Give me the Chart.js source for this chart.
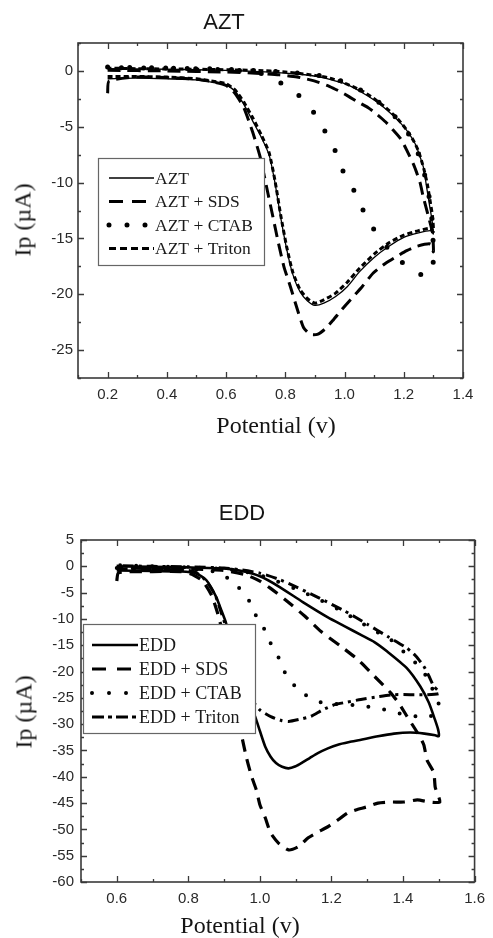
<!DOCTYPE html>
<html>
<head>
<meta charset="utf-8">
<script src="https://cdn.jsdelivr.net/npm/chart.js@4.4.1/dist/chart.umd.min.js"></script>
<style>
  body { margin:0; background:#fff; width:493px; height:938px; position:relative; overflow:hidden; }
  canvas { position:absolute; left:0; }
  .lbl { position:absolute; white-space:nowrap; color:#151515; transform:translate(-50%,-50%); }
  .ttl { font-family:'Liberation Sans', Arial, sans-serif; font-size:22px; }
  .ax  { font-family:'Liberation Serif', 'Times New Roman', serif; font-size:24px; }
  .rot { transform:translate(-50%,-50%) rotate(-90deg); }
</style>
</head>
<body>
<canvas id="aztChart" width="493" height="440" style="top:0"></canvas>
<canvas id="eddChart" width="493" height="468" style="top:470px"></canvas>

<div class="lbl ttl" style="left:224px;top:22px">AZT</div>
<div class="lbl ax rot" style="left:23px;top:220px">Ip (µA)</div>
<div class="lbl ax" style="left:276px;top:425px">Potential (v)</div>

<div class="lbl ttl" style="left:242px;top:513px">EDD</div>
<div class="lbl ax rot" style="left:24px;top:712px">Ip (µA)</div>
<div class="lbl ax" style="left:240px;top:925px">Potential (v)</div>

<script>
// ---- AZT voltammograms (potential V, current µA) ----
const aztX = [0.2,0.3,0.4,0.5,0.55,0.6,0.63,0.66,0.69,0.72,0.745,0.765,0.785,0.805,0.825,0.85,0.875,0.9,0.93,0.97,1.01,1.05,1.1,1.15,1.2,1.25,1.29,1.3,
  1.295,1.288,1.276,1.266,1.25,1.238,1.215,1.19,1.16,1.13,1.1,1.063,1.03,0.996,0.95,0.908,0.85,0.75,0.6,0.4,0.2];
const aztY = [-0.7,-0.65,-0.7,-0.8,-1.0,-1.25,-1.8,-3.0,-4.5,-6.0,-7.5,-10.0,-13.2,-16.0,-18.2,-19.8,-20.6,-21.0,-20.8,-20.2,-19.3,-18.0,-16.7,-15.7,-14.9,-14.5,-14.3,-14.6,
  -13.3,-12.2,-10.2,-8.6,-7.3,-6.5,-5.5,-4.7,-3.9,-3.2,-2.6,-2.0,-1.5,-1.1,-0.75,-0.5,-0.3,-0.1,0.05,0.15,0.2];

const aztSdsX = [0.2,0.205,0.3,0.4,0.5,0.55,0.6,0.63,0.66,0.69,0.715,0.74,0.76,0.775,0.795,0.817,0.84,0.862,0.885,0.908,0.935,0.962,0.99,1.02,1.06,1.097,1.14,1.177,1.21,1.245,1.29,1.3,
  1.297,1.285,1.265,1.255,1.235,1.21,1.19,1.164,1.14,1.11,1.08,1.046,1.015,0.985,0.95,0.91,0.884,0.84,0.78,0.7,0.6,0.4,0.2];
const aztSdsY = [-2.0,-0.9,-0.55,-0.6,-0.75,-0.95,-1.3,-2.0,-3.3,-5.5,-7.7,-10.8,-13.3,-15.2,-17.5,-19.3,-21.3,-23.0,-23.6,-23.6,-23.1,-22.3,-21.4,-20.5,-19.3,-18.1,-17.2,-16.6,-16.1,-15.7,-15.5,-16.2,
  -14.5,-13.2,-11.2,-10.0,-8.5,-7.1,-6.1,-5.3,-4.6,-3.9,-3.3,-2.8,-2.3,-1.85,-1.4,-1.0,-0.8,-0.55,-0.35,-0.2,-0.1,0.0,0.05];

const aztCtabX = [0.2,0.3,0.4,0.5,0.6,0.7,0.75,0.78,0.81,0.844,0.87,0.9,0.92,0.94,0.96,0.975,1.0,1.036,1.063,1.097,1.15,1.215,1.265,1.295,1.3,
  1.297,1.29,1.275,1.26,1.24,1.215,1.19,1.16,1.12,1.08,1.04,1.0,0.95,0.9,0.8,0.6,0.4,0.2];
const aztCtabY = [0.35,0.3,0.25,0.2,0.1,-0.1,-0.5,-1.0,-1.5,-2.15,-2.9,-3.85,-4.7,-5.7,-6.7,-7.5,-9.3,-10.9,-12.5,-14.1,-16.0,-17.6,-18.3,-18.0,-16.5,
  -14.0,-12.0,-9.8,-8.3,-6.8,-5.6,-4.7,-3.8,-2.9,-2.1,-1.5,-1.0,-0.6,-0.35,-0.1,0.15,0.25,0.3];

const aztTritonX = [0.2,0.3,0.4,0.5,0.55,0.6,0.63,0.66,0.69,0.72,0.745,0.765,0.785,0.805,0.825,0.85,0.875,0.9,0.93,0.97,1.01,1.05,1.1,1.15,1.2,1.25,1.29,1.3,
  1.297,1.29,1.28,1.268,1.25,1.232,1.21,1.18,1.14,1.1,1.06,1.0,0.95,0.9,0.8,0.7,0.5,0.3,0.2];
const aztTritonY = [-0.5,-0.5,-0.55,-0.7,-0.9,-1.15,-1.7,-2.8,-4.2,-5.8,-7.3,-9.8,-13.0,-15.8,-18.0,-19.6,-20.4,-20.8,-20.5,-19.9,-18.9,-17.7,-16.4,-15.4,-14.7,-14.3,-14.1,-14.4,
  -13.0,-11.8,-10.2,-8.8,-7.2,-6.2,-5.3,-4.3,-3.3,-2.5,-1.8,-1.1,-0.65,-0.4,-0.1,0.05,0.15,0.2,0.25];

// ---- EDD voltammograms ----
const eddX = [0.6,0.7,0.78,0.82,0.85,0.877,0.893,0.905,0.92,0.94,0.96,0.975,0.988,1.0,1.015,1.03,1.045,1.062,1.08,1.1,1.116,1.14,1.162,1.19,1.218,1.25,1.28,1.33,1.375,1.42,1.46,1.49,1.5,
  1.498,1.489,1.472,1.448,1.41,1.356,1.32,1.281,1.24,1.19,1.12,1.052,1.0,0.95,0.9,0.8,0.7,0.6];
const eddY = [-0.8,-0.9,-1.0,-1.3,-2.6,-5.7,-8.5,-10.7,-14.5,-19.5,-24.0,-26.8,-28.8,-31.3,-34.3,-36.2,-37.4,-38.1,-38.4,-38.0,-37.4,-36.4,-35.5,-34.6,-33.9,-33.4,-33.0,-32.3,-31.8,-31.6,-31.8,-32.1,-32.3,
  -31.0,-29.1,-25.9,-22.8,-19.3,-16.2,-14.4,-13.0,-11.5,-9.7,-6.8,-3.8,-1.9,-0.9,-0.4,-0.2,-0.1,0.0];

const eddSdsX = [0.6,0.605,0.7,0.78,0.81,0.84,0.865,0.88,0.89,0.905,0.92,0.935,0.95,0.963,0.977,0.99,1.0,1.015,1.03,1.052,1.08,1.107,1.135,1.157,1.19,1.21,1.245,1.268,1.3,1.33,1.365,1.403,1.44,1.475,1.503,
  1.49,1.486,1.467,1.458,1.44,1.41,1.39,1.365,1.32,1.273,1.226,1.171,1.126,1.07,1.03,1.0,0.96,0.9,0.8,0.7,0.6];
const eddSdsY = [-2.8,-1.2,-1.0,-1.0,-1.5,-2.8,-5.5,-8.5,-11.0,-15.5,-21.0,-27.0,-32.5,-36.5,-40.0,-42.5,-45.3,-47.8,-50.7,-52.6,-53.9,-53.3,-51.6,-50.7,-49.5,-48.6,-46.9,-46.3,-45.7,-45.0,-44.8,-44.8,-44.4,-44.8,-44.8,
  -42.0,-39.2,-36.8,-33.9,-31.6,-28.4,-26.2,-24.0,-20.9,-17.7,-15.2,-12.4,-9.5,-6.3,-4.2,-2.8,-1.6,-0.8,-0.5,-0.4,-0.3];

const eddCtabX = [0.6,0.7,0.8,0.86,0.89,0.913,0.935,0.955,0.97,0.982,1.0,1.01,1.029,1.052,1.07,1.098,1.126,1.162,1.2,1.25,1.293,1.328,1.37,1.41,1.44,1.476,1.495,1.5,
  1.498,1.487,1.48,1.467,1.445,1.41,1.365,1.33,1.28,1.22,1.16,1.1,1.05,1.0,0.95,0.9,0.8,0.7,0.6];
const eddCtabY = [-0.3,-0.35,-0.5,-0.8,-1.5,-2.4,-3.7,-5.0,-6.6,-8.5,-10.6,-11.6,-14.5,-17.3,-20.2,-22.8,-24.4,-25.7,-26.1,-26.3,-26.6,-26.9,-27.6,-28.3,-28.5,-28.5,-27.8,-27.0,
  -25.5,-24.0,-23.0,-21.1,-19.0,-16.8,-13.9,-12.6,-10.6,-8.2,-6.1,-4.3,-2.9,-1.7,-0.9,-0.5,-0.2,0.0,0.2];

const eddTritonX = [0.6,0.7,0.79,0.82,0.85,0.875,0.893,0.91,0.93,0.95,0.965,0.977,1.0,1.032,1.06,1.08,1.11,1.143,1.175,1.209,1.245,1.282,1.33,1.375,1.42,1.467,1.5,
  1.497,1.486,1.472,1.458,1.435,1.41,1.356,1.3,1.237,1.162,1.098,1.05,1.0,0.95,0.9,0.8,0.7,0.6];
const eddTritonY = [-0.5,-0.6,-0.7,-1.1,-2.8,-5.5,-9.0,-12.5,-17.0,-21.0,-23.5,-25.3,-27.3,-28.6,-29.3,-29.5,-29.1,-28.5,-27.3,-26.3,-25.8,-25.3,-24.8,-24.4,-24.4,-24.4,-24.2,
  -23.6,-22.8,-20.8,-19.0,-17.0,-15.5,-13.3,-11.0,-8.5,-5.9,-3.8,-2.4,-1.3,-0.7,-0.3,-0.1,0.0,0.1];

const toPoints = (xs, ys) => xs.map((x, i) => ({ x, y: ys[i] }));

// box round the plot with inward major/minor ticks on all four sides
const frameTicks = {
  id: 'frameTicks',
  afterDatasetsDraw(chart, args, opts) {
    const { ctx, chartArea: a, scales } = chart;
    ctx.save();
    ctx.strokeStyle = opts.color;
    ctx.lineWidth = 1.3;
    ctx.beginPath();
    scales.x.ticks.forEach(t => {
      const px = Math.round(scales.x.getPixelForValue(t.value)) + 0.5;
      const len = t.label ? opts.major : opts.minor;
      ctx.moveTo(px, a.bottom); ctx.lineTo(px, a.bottom - len);
      ctx.moveTo(px, a.top); ctx.lineTo(px, a.top + len);
    });
    scales.y.ticks.forEach(t => {
      const py = Math.round(scales.y.getPixelForValue(t.value)) + 0.5;
      const len = t.label ? opts.major : opts.minor;
      ctx.moveTo(a.left, py); ctx.lineTo(a.left + len, py);
      ctx.moveTo(a.right, py); ctx.lineTo(a.right - len, py);
    });
    ctx.stroke();
    ctx.lineWidth = 1.6;
    ctx.strokeRect(a.left, a.top, a.right - a.left, a.bottom - a.top);
    ctx.restore();
  }
};

// opaque legend box sitting inside the plot
const insetLegend = {
  id: 'insetLegend',
  afterDraw(chart, args, o) {
    const ctx = chart.ctx;
    ctx.save();
    ctx.fillStyle = '#fff';
    ctx.fillRect(o.x, o.y, o.w, o.h);
    ctx.strokeStyle = '#666';
    ctx.lineWidth = 1.2;
    ctx.strokeRect(o.x + 0.5, o.y + 0.5, o.w, o.h);
    chart.data.datasets.forEach((ds, i) => {
      const cy = o.row0 + i * o.rowGap;
      ctx.beginPath();
      ctx.setLineDash(ds.legendDash || ds.borderDash || []);
      ctx.lineWidth = ds.borderWidth;
      ctx.lineCap = ds.borderCapStyle || 'butt';
      ctx.strokeStyle = '#000';
      ctx.moveTo(o.s0, cy);
      ctx.lineTo(o.s1, cy);
      ctx.stroke();
      ctx.setLineDash([]);
      ctx.fillStyle = '#1a1a1a';
      ctx.font = o.font;
      ctx.textBaseline = 'middle';
      ctx.fillText(ds.label, o.tx, cy + 1);
    });
    ctx.restore();
  }
};

const tickFont = { family: "'Liberation Sans', Arial, sans-serif", size: 15 };
const evenTenth = v => { const k = Math.round(v * 10); return k % 2 === 0 ? (k / 10).toFixed(1) : ''; };
const everyFive = v => Math.abs(v % 5) < 1e-6 ? String(Math.round(v)) : '';

function line(label, xs, ys, w, dash, cap, legendDash) {
  return {
    label, data: toPoints(xs, ys), showLine: true, pointRadius: 0,
    borderColor: '#000', backgroundColor: '#000', borderWidth: w,
    borderDash: dash, borderCapStyle: cap || 'butt', borderJoinStyle: 'round',
    tension: 0.2, legendDash
  };
}

function makeChart(id, datasets, cfg) {
  return new Chart(document.getElementById(id), {
    type: 'scatter',
    data: { datasets },
    plugins: [frameTicks, insetLegend],
    options: {
      responsive: false,
      animation: false,
      events: [],
      layout: { padding: cfg.padding },
      scales: {
        x: {
          type: 'linear', min: cfg.xMin, max: cfg.xMax,
          grid: { display: false, drawTicks: false }, border: { display: false },
          ticks: { stepSize: 0.1, autoSkip: false, maxRotation: 0, padding: 8, color: '#2a2a2a', font: tickFont, callback: evenTenth },
          afterFit: s => { s.height = 30; }
        },
        y: {
          type: 'linear', min: cfg.yMin, max: cfg.yMax,
          grid: { display: false, drawTicks: false }, border: { display: false },
          ticks: { stepSize: cfg.yStep, autoSkip: false, padding: cfg.yPad, color: '#2a2a2a', font: tickFont, callback: everyFive },
          afterFit: s => { s.width = cfg.yWidth; }
        }
      },
      plugins: {
        legend: { display: false },
        tooltip: { enabled: false },
        frameTicks: { color: '#3a3a3a', major: 6, minor: 3 },
        insetLegend: cfg.legend
      }
    }
  });
}

makeChart('aztChart', [
  line('AZT', aztX, aztY, 1.3, []),
  line('AZT + SDS', aztSdsX, aztSdsY, 3, [13, 7], 'butt', [14, 9]),
  line('AZT + CTAB', aztCtabX, aztCtabY, 5, [0, 22], 'round', [0, 18]),
  line('AZT + Triton', aztTritonX, aztTritonY, 3, [5, 3], 'butt', [7, 4])
], {
  xMin: 0.1, xMax: 1.4, yMin: -27.5, yMax: 2.5, yStep: 2.5, yWidth: 78, yPad: 5,
  padding: { left: 0, top: 43, right: 30, bottom: 32 },
  legend: { x: 98, y: 158, w: 166, h: 107, row0: 178, rowGap: 23.5, s0: 109, s1: 154, tx: 155,
            font: "17.5px 'Liberation Serif', 'Times New Roman', serif" }
});

makeChart('eddChart', [
  line('EDD', eddX, eddY, 2.6, [], 'butt', []),
  line('EDD + SDS', eddSdsX, eddSdsY, 3.2, [12, 8], 'butt', [14, 11]),
  line('EDD + CTAB', eddCtabX, eddCtabY, 4, [0, 16], 'round', [0, 17]),
  line('EDD + Triton', eddTritonX, eddTritonY, 3, [11, 5, 3, 5], 'butt', [12, 4, 4, 4])
], {
  xMin: 0.5, xMax: 1.6, yMin: -60, yMax: 5, yStep: 2.5, yWidth: 81, yPad: 7,
  padding: { left: 0, top: 70, right: 15, bottom: 26 },
  legend: { x: 83, y: 154, w: 172, h: 109, row0: 175, rowGap: 24, s0: 92, s1: 138, tx: 139,
            font: "18px 'Liberation Serif', 'Times New Roman', serif" }
});
</script>
</body>
</html>
